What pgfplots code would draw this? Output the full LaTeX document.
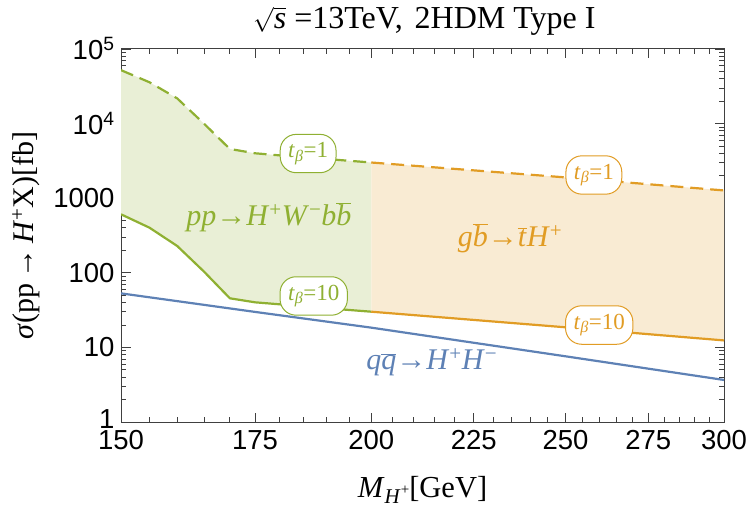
\documentclass[border=0pt]{standalone}
\usepackage{pgfplots}
\pgfplotsset{compat=1.18}
\usepackage{fontspec}
\setmainfont{Liberation Serif}
\newfontfamily\tickfont{Liberation Sans}

\definecolor{mblue}{RGB}{94,129,181}
\definecolor{morange}{RGB}{225,156,36}
\definecolor{mgreen}{RGB}{143,176,50}

\newcommand{\ob}[1]{\ensuremath{\overline{\mbox{\textit{#1}}}}}
\newcommand{\tb}[1]{\textit{t}\textsubscript{\textit{β}}=#1}

\begin{document}
\begin{tikzpicture}
\begin{axis}[
    scale only axis,
    width=603bp, height=373bp,
    clip mode=individual,
    xmode=log, ymode=log,
    xmin=150, xmax=300, ymin=1, ymax=100000,
    xtick={150,175,200,225,250,275,300},
    xticklabels={150,175,200,225,250,275,300},
    minor xtick={155,160,165,170,180,185,190,195,205,210,215,220,230,235,240,245,255,260,265,270,280,285,290,295},
    ytick={1,10,100,1000,10000,100000},
    yticklabels={\raisebox{6bp}{1},10,100,1000,10\textsuperscript{4},10\textsuperscript{5}},
    minor ytick={2,3,4,5,6,7,8,9,20,30,40,50,60,70,80,90,200,300,400,500,600,700,800,900,2000,3000,4000,5000,6000,7000,8000,9000,20000,30000,40000,50000,60000,70000,80000,90000},
    tick align=inside,
    major tick length=9.5bp, minor tick length=5bp,
    every tick/.style={black!75, line width=0.8bp},
    axis line style={black!75, line width=1bp},
    /pgf/number format/assume math mode=true,
    tick label style={font=\tickfont\fontsize{27.5bp}{30bp}\selectfont},
    xticklabel style={yshift=-5bp},
    yticklabel style={xshift=-3bp},
    xlabel style={at={(axis description cs:0.5,-0.182)}, anchor=center},
    ylabel style={at={(axis description cs:-0.158,0.5)}, anchor=center},
    xlabel={\fontsize{30.5bp}{33bp}\selectfont\textit{M}\raisebox{-0.22em}{\fontsize{21bp}{21bp}\selectfont\textit{H}\raisebox{0.45em}{\fontsize{15bp}{15bp}\selectfont+}}[GeV]},
    ylabel={\fontsize{30bp}{33bp}\selectfont\textit{σ}(pp\,→\,\textit{H}\textsuperscript{+}X)[fb]},
]
% shaded bands between tan(beta)=1 and tan(beta)=10
\addplot[draw=none, fill=mgreen!20] coordinates {
    (150,52000) (155,35800) (160,21800) (165,10000) (170,4570)
    (175,4000) (180,3750) (190,3350) (200,3010)
    (200,30.1) (190,33.5) (180,37.8) (175,40.2) (170,45.5)
    (165,104) (160,229) (155,402) (150,608)} -- cycle;
\addplot[draw=none, fill=morange!20] coordinates {
    (200,3010) (250,1900) (300,1270)
    (300,12.4) (250,18.6) (200,30.1)} -- cycle;

% H+ W- b bbar
\addplot[mgreen, line width=2.2bp, dash pattern=on 13bp off 7bp] coordinates {
    (150,52000) (155,35800) (160,21800) (165,10000) (170,4570)
    (175,4000) (180,3750) (190,3350) (200,3010)};
\addplot[mgreen, line width=2.2bp] coordinates {
    (150,608) (155,402) (160,229) (165,104) (170,45.5)
    (175,40.2) (180,37.8) (190,33.5) (200,30.1)};

% g bbar -> tbar H+
\addplot[morange, line width=2.2bp, dash pattern=on 13bp off 7bp] coordinates {
    (200,3010) (250,1900) (300,1270)};
\addplot[morange, line width=2.2bp] coordinates {
    (200,30.1) (250,18.6) (300,12.4)};

% q qbar -> H+ H-
\addplot[mblue, line width=2.2bp] coordinates {
    (150,53) (175,29.9) (200,18.4) (250,7.6) (300,3.66)};

\tikzset{tbox/.style={draw=#1, text=#1, fill=white, line width=1bp,
    rounded corners=16bp, inner xsep=8bp, inner ysep=8bp,
    font=\fontsize{23bp}{25bp}\selectfont}}
\node[tbox=mgreen] at (axis cs:186,3970) {\tb{1}};
\node[tbox=morange] at (axis cs:258.3,2047) {\tb{1}};
\node[tbox=mgreen] at (axis cs:187.2,48.9) {\tb{10}};
\node[tbox=morange] at (axis cs:259.9,19.95) {\tb{10}};

\node[text=mgreen, font=\fontsize{30bp}{32bp}\selectfont] at (axis cs:177.8,560)
    {\textit{pp}→\textit{H}\textsuperscript{+}\textit{W}\textsuperscript{−}\textit{b}\ob{b}};
\node[text=morange, font=\fontsize{30bp}{32bp}\selectfont] at (axis cs:234.6,292)
    {\textit{g}\ob{b}→\ob{t}\textit{H}\textsuperscript{+}};
\node[text=mblue, font=\fontsize{30bp}{32bp}\selectfont] at (axis cs:214.4,6.37)
    {\textit{q}\ob{q}→\textit{H}\textsuperscript{+}\textit{H}\textsuperscript{−}};

% title
\node[font=\fontsize{32bp}{35bp}\selectfont, anchor=base] at (axis description cs:0.503,1.056)
    {$\sqrt{\mbox{\textit{s}}}$ =13TeV,\hspace{0.12em} 2HDM Type I};
\end{axis}
\pgfresetboundingbox
\path (current axis.south west) ++(-121bp,-90bp) rectangle ++(751bp,512bp);
\end{tikzpicture}
\end{document}
